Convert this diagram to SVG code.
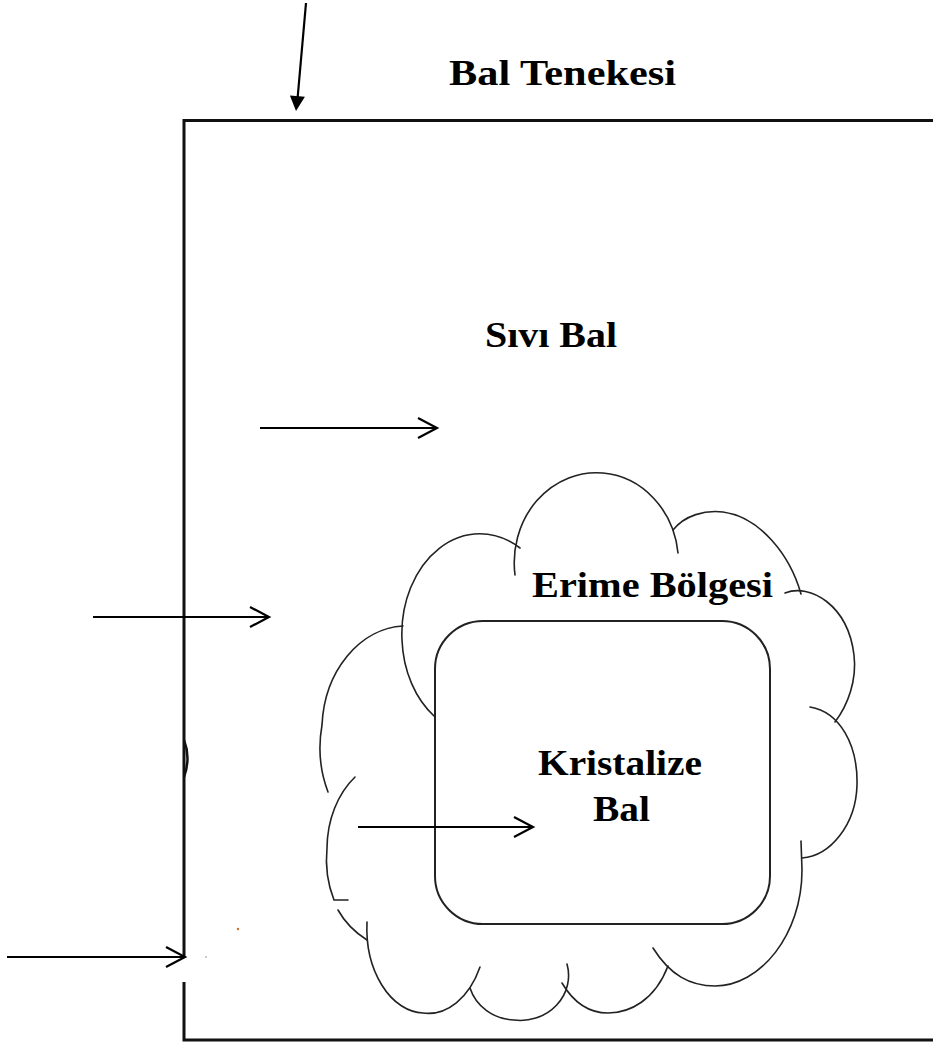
<svg xmlns="http://www.w3.org/2000/svg" width="933" height="1048" viewBox="0 0 933 1048">
  <style>
    .lbl { font-family: "Liberation Serif", "Times New Roman", serif; font-weight: bold; font-size: 35px; fill: #000; }
    .wall { fill: none; stroke: #111; stroke-width: 3; }
    .lobe { fill: none; stroke: #222; stroke-width: 1.6; stroke-linecap: round; }
    .core { fill: none; stroke: #222; stroke-width: 2; }
    .arrow { fill: none; stroke: #000; stroke-width: 2.2; }
    .head { fill: none; stroke: #000; stroke-width: 2.2; stroke-linejoin: miter; }
  </style>
  <defs>
    <!-- open "V" head, tip at the origin, pointing right -->
    <path id="openHead" class="head" d="M-19,-10 L0,0 L-19,10"/>
  </defs>

  <rect width="933" height="1048" fill="#fff"/>

  <!-- honey tin: open box running off the right edge -->
  <g id="bal-tenekesi">
    <path class="wall" d="M945,120.5 L184,120.5 L184,958 M184,982 L184,1040 L945,1040"/>
    <path d="M184,740 Q191,758 184,777" fill="none" stroke="#111" stroke-width="2.5"/>
    <text class="lbl" x="449" y="85" textLength="227" lengthAdjust="spacingAndGlyphs">Bal Tenekesi</text>
  </g>

  <!-- liquid honey label -->
  <g id="sivi-bal">
    <text class="lbl" x="485" y="347" textLength="132" lengthAdjust="spacingAndGlyphs">Sıvı Bal</text>
  </g>

  <!-- melting zone: hand-drawn cloud made of separate lobes -->
  <g id="erime-bolgesi">
    <path class="lobe" d="M515,575 A82,90 0 0 1 603,473 A82,90 0 0 1 678,553"/>
    <path class="lobe" d="M673,530 C685,515 705,510 723,512 C760,517 790,555 801,594"/>
    <path class="lobe" d="M785,593 C810,583 848,605 854,655 C857,680 848,705 835,722"/>
    <path class="lobe" d="M810,707 C840,712 858,745 857,785 C856,825 830,856 802,858"/>
    <path class="lobe" d="M653,948 C670,975 690,986 715,986 C760,986 802,935 802,870 L801,841"/>
    <path class="lobe" d="M562,983 C575,1005 590,1013 608,1013 C630,1013 655,1000 668,966"/>
    <path class="lobe" d="M470,988 A48,45 0 0 0 514,1020 A48,45 0 0 0 567,964"/>
    <path class="lobe" d="M367,922 A58,85 0 0 0 423,1013 A58,85 0 0 0 480,967"/>
    <path class="lobe" d="M338,910 Q348,928 367,940"/>
    <path class="lobe" d="M355,777 A70,90 0 0 0 327,848 A70,90 0 0 0 334,900 L348,900"/>
    <path class="lobe" d="M403,626 A85,105 0 0 0 322,725 A85,105 0 0 0 328,792"/>
    <path class="lobe" d="M520,548 A78,100 0 0 0 402,640 A78,100 0 0 0 435,717"/>
    <text class="lbl" x="532" y="597" textLength="241" lengthAdjust="spacingAndGlyphs">Erime Bölgesi</text>
  </g>

  <!-- crystallised core -->
  <g id="kristalize-bal">
    <rect class="core" x="435" y="621" width="335" height="303" rx="48" ry="48"/>
    <text class="lbl" x="538" y="775" textLength="164" lengthAdjust="spacingAndGlyphs">Kristalize</text>
    <text class="lbl" x="593" y="821" textLength="57" lengthAdjust="spacingAndGlyphs">Bal</text>
  </g>

  <!-- small specks -->
  <circle cx="238" cy="929" r="1.2" fill="#c8702a"/>
  <circle cx="206" cy="957" r="1" fill="#bbb"/>

  <!-- pointer arrows -->
  <g id="connectors">
    <path class="arrow" d="M306,3 L297.6,98" stroke-width="2.5"/>
    <polygon points="296,111 304.9,96.8 289.9,95.4" fill="#000"/>

    <path class="arrow" d="M260,428 L436,428"/>
    <use href="#openHead" x="437" y="428"/>

    <path class="arrow" d="M93,617 L268,617"/>
    <use href="#openHead" x="269" y="617"/>

    <path class="arrow" d="M358,827 L532,827"/>
    <use href="#openHead" x="533" y="827"/>

    <path class="arrow" d="M7,957 L184,957"/>
    <use href="#openHead" x="185" y="957"/>
  </g>
</svg>
